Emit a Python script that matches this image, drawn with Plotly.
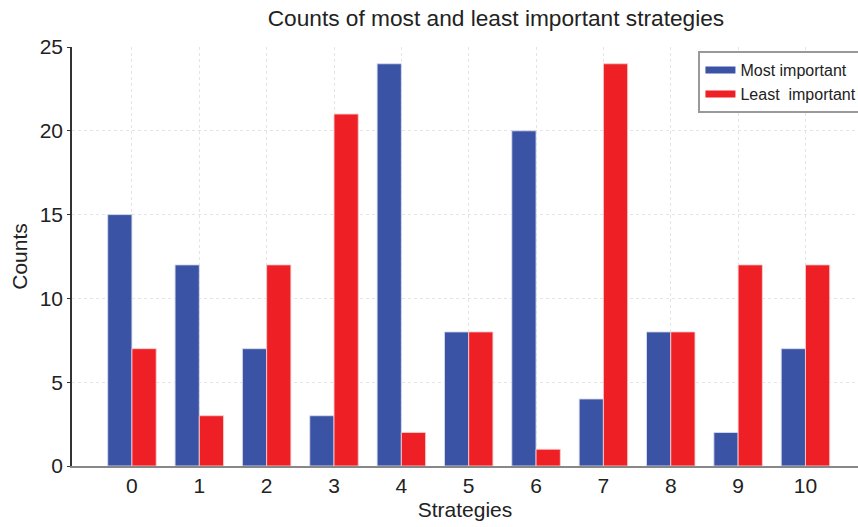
import plotly.graph_objects as go

strategies = [0, 1, 2, 3, 4, 5, 6, 7, 8, 9, 10]
most_important = [15, 12, 7, 3, 24, 8, 20, 4, 8, 2, 7]
least_important = [7, 3, 12, 21, 2, 8, 1, 24, 8, 12, 12]
series_names = ["Most important", "Least  important"]
series_colors = ["#3A53A4", "#EE1F25"]

fig = go.Figure()
fig.add_trace(go.Bar(x=strategies, y=most_important, name=series_names[0], showlegend=False,
                     marker=dict(color=series_colors[0], line=dict(color="rgba(215,220,238,0.9)", width=1))))
fig.add_trace(go.Bar(x=strategies, y=least_important, name=series_names[1], showlegend=False,
                     marker=dict(color=series_colors[1], line=dict(color="rgba(245,205,205,0.9)", width=1))))
# legend entries drawn as wide colour swatches
for name, color in zip(series_names, series_colors):
    fig.add_trace(go.Scatter(x=[None], y=[None], mode="lines", name=name,
                             line=dict(color=color, width=7)))

font = "Liberation Sans, Arial, sans-serif"
fig.update_layout(
    width=858, height=527,
    margin=dict(l=72, r=0, t=47, b=61, autoexpand=False),
    paper_bgcolor="white", plot_bgcolor="white",
    barmode="group", bargap=0.28, bargroupgap=0,
    font=dict(family=font, color="#222"),
    title=dict(text="Counts of most and least important strategies", x=0.578, xanchor="center",
               y=1 - 18 / 527, yanchor="middle", font=dict(size=22.7, color="#222")),
    legend=dict(x=0.797, xanchor="left", y=0.99, yanchor="top",
                bordercolor="#999", borderwidth=2, bgcolor="white",
                font=dict(size=16, color="#222"), tracegroupgap=0,
                itemwidth=30),
    xaxis=dict(range=[-0.89, 10.78], tickmode="array", tickvals=strategies,
               ticktext=[str(s) for s in strategies],
               showgrid=True, gridcolor="#e4e4e4", griddash="dot",
               showline=True, linecolor="#888", linewidth=1.5,
               ticks="", tickfont=dict(size=21, color="#222"),
               title=dict(text="Strategies", font=dict(size=21, color="#222"), standoff=6),
               zeroline=False),
    yaxis=dict(range=[0, 25], tickvals=[0, 5, 10, 15, 20, 25],
               showgrid=True, gridcolor="#e4e4e4", griddash="dot",
               showline=True, linecolor="#333", linewidth=1.5,
               ticks="outside", ticklen=3, tickcolor="#333",
               tickfont=dict(size=21, color="#222"),
               title=dict(text="Counts", font=dict(size=21, color="#222"), standoff=6),
               zeroline=False),
)

fig.write_html("out.html")
